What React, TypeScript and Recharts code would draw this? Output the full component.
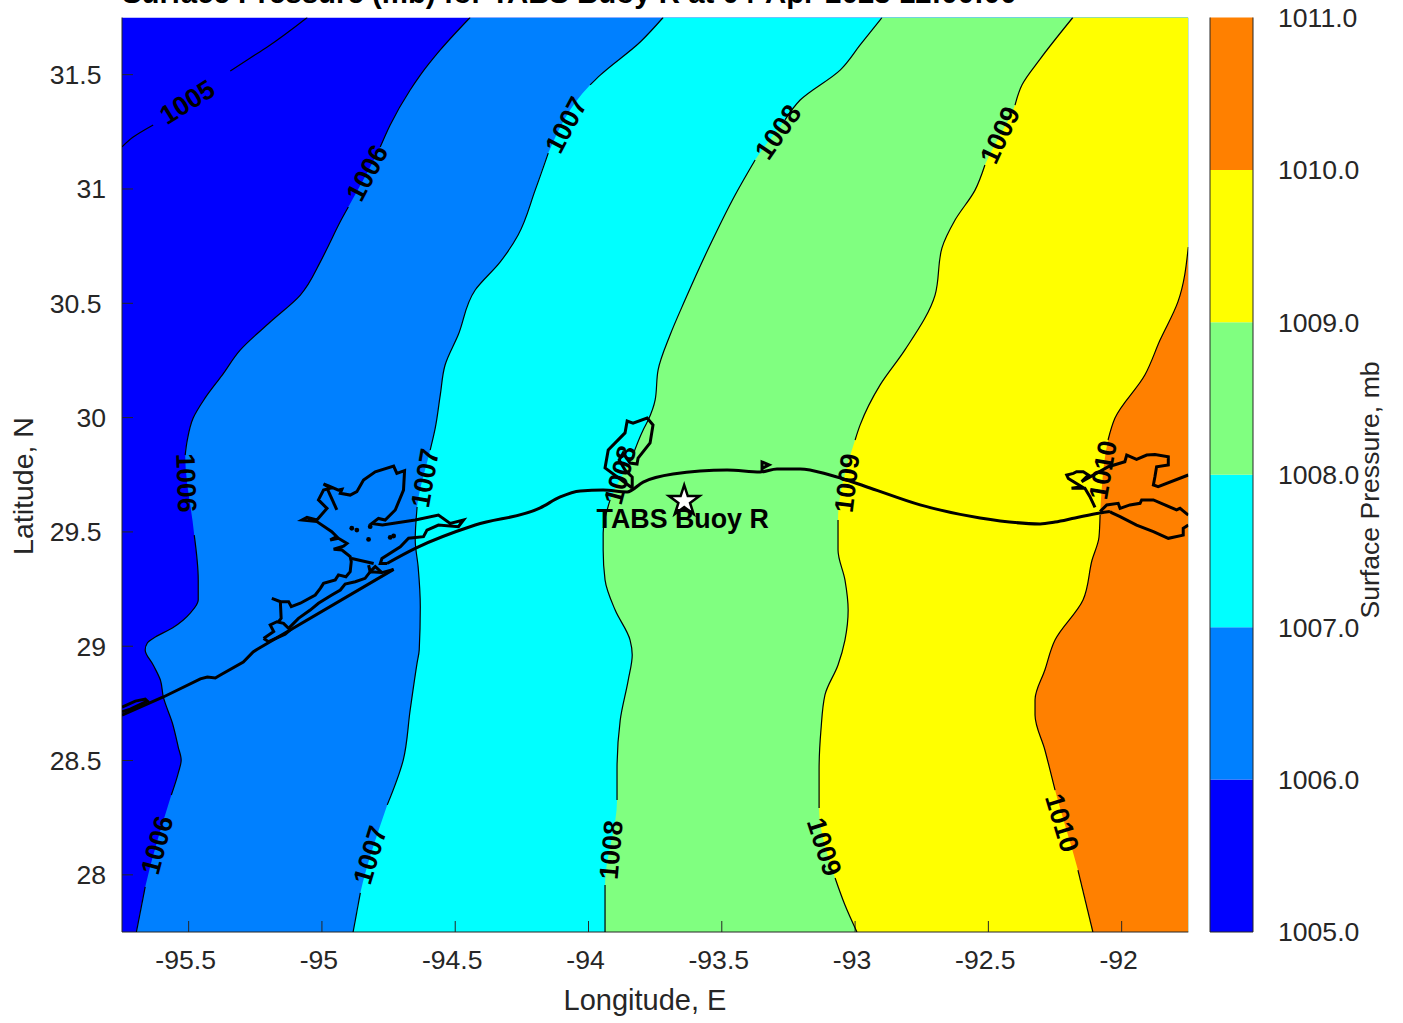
import { Area, ComposedChart, Scatter, Symbols, XAxis, YAxis } from "recharts";

const FONT = "'Liberation Sans', Arial, sans-serif";
const AXIS_COLOR = "#262626";
const LON_MIN = -95.75;
const LON_MAX = -91.75;

const lonTicks = [-95.5, -95, -94.5, -94, -93.5, -93, -92.5, -92];
const latTicks = [28, 28.5, 29, 29.5, 30, 30.5, 31, 31.5];

// contours as [lon, lat], split into runs where the inline label interrupts the line
const contour1005 = [
  [[-95.75, 31.184], [-95.708, 31.227], [-95.633, 31.28]],
  [[-95.344, 31.516], [-95.269, 31.573], [-95.205, 31.621], [-95.055, 31.75]],
];
const contour1006 = [
  [[-94.444, 31.75], [-94.556, 31.608], [-94.631, 31.498], [-94.669, 31.433], [-94.744, 31.28], [-94.781, 31.184]],
  [[-94.901, 30.921], [-94.928, 30.864], [-94.976, 30.751], [-95.006, 30.681], [-95.081, 30.536], [-95.194, 30.418], [-95.306, 30.296], [-95.374, 30.186], [-95.438, 30.086], [-95.483, 29.998], [-95.505, 29.902], [-95.513, 29.836]],
  [[-95.479, 29.486], [-95.464, 29.29], [-95.464, 29.202], [-95.494, 29.145], [-95.52, 29.115], [-95.561, 29.08], [-95.625, 29.04], [-95.655, 29.014], [-95.663, 28.984], [-95.633, 28.918], [-95.606, 28.852], [-95.595, 28.778], [-95.561, 28.664], [-95.539, 28.559], [-95.528, 28.502], [-95.539, 28.445], [-95.565, 28.349]],
  [[-95.663, 27.947], [-95.696, 27.75]],
];
const contour1007 = [
  [[-93.72, 31.75], [-93.806, 31.643], [-93.956, 31.498], [-93.994, 31.455]],
  [[-94.151, 31.157], [-94.2, 30.995], [-94.264, 30.799], [-94.331, 30.681], [-94.425, 30.558], [-94.489, 30.361], [-94.538, 30.23], [-94.556, 30.099], [-94.575, 29.954], [-94.594, 29.858]],
  [[-94.643, 29.609], [-94.65, 29.465], [-94.639, 29.346], [-94.631, 29.172], [-94.635, 28.984], [-94.643, 28.927], [-94.669, 28.721], [-94.695, 28.502], [-94.755, 28.306]],
  [[-94.856, 27.921], [-94.883, 27.75]],
];
const contour1008 = [
  [[-92.899, 31.75], [-92.981, 31.63], [-93.056, 31.52], [-93.206, 31.389], [-93.263, 31.302]],
  [[-93.375, 31.127], [-93.45, 30.974], [-93.544, 30.755], [-93.638, 30.514], [-93.694, 30.361], [-93.739, 30.208], [-93.75, 30.077], [-93.776, 29.989], [-93.795, 29.946], [-93.836, 29.828]],
  [[-93.919, 29.64], [-93.945, 29.495], [-93.945, 29.421], [-93.938, 29.29], [-93.9, 29.158], [-93.844, 29.027], [-93.836, 28.962], [-93.851, 28.852], [-93.881, 28.677], [-93.893, 28.459], [-93.893, 28.327]],
  [[-93.938, 27.956], [-93.938, 27.75]],
];
const contour1009 = [
  [[-92.183, 31.75], [-92.306, 31.568], [-92.374, 31.455], [-92.4, 31.367]],
  [[-92.513, 31.105], [-92.55, 30.995], [-92.625, 30.864], [-92.674, 30.742], [-92.7, 30.536], [-92.813, 30.296], [-92.906, 30.143], [-92.981, 29.968], [-93.0, 29.902]],
  [[-93.064, 29.552], [-93.064, 29.421], [-93.038, 29.29], [-93.026, 29.158], [-93.038, 29.027], [-93.064, 28.918], [-93.113, 28.787], [-93.128, 28.634], [-93.135, 28.459], [-93.135, 28.292]],
  [[-93.075, 27.986], [-93.038, 27.868], [-92.993, 27.75]],
];
const contour1010 = [
  [[-91.75, 30.746], [-91.789, 30.506], [-91.856, 30.339], [-91.913, 30.186], [-92.025, 29.998], [-92.051, 29.902]],
  [[-92.081, 29.574], [-92.085, 29.478], [-92.111, 29.377], [-92.145, 29.202], [-92.25, 29.027], [-92.288, 28.896], [-92.325, 28.765], [-92.325, 28.699], [-92.288, 28.546], [-92.25, 28.371]],
  [[-92.164, 28.021], [-92.108, 27.75]],
];
const contourBase = [[LON_MIN, 27.75], [LON_MIN, 31.75]];

const contourLabelText = ["1005", "1006", "1006", "1006", "1007", "1007", "1007", "1008", "1008", "1008", "1009", "1009", "1009", "1010", "1010"];
const contourLabelLon = [-95.505, -94.83, -95.509, -95.618, -94.084, -94.613, -94.819, -93.289, -93.881, -93.915, -92.456, -93.03, -93.116, -92.07, -92.224];
const contourLabelLat = [31.38, 31.07, 29.714, 28.13, 31.28, 29.736, 28.087, 31.249, 29.749, 28.109, 31.236, 29.714, 28.122, 29.771, 28.227];
const contourLabelAngle = [-32, -62, 88, -75, -62, -80, -73, -55, -75, -85, -65, -83, 72, -80, 73];

// coastline pieces
const coastWest = [[-95.75, 28.699], [-95.595, 28.778], [-95.456, 28.857], [-95.43, 28.865], [-95.4, 28.861], [-95.381, 28.874], [-95.295, 28.931], [-95.258, 28.975], [-95.244, 28.986], [-94.731, 29.336]];
const coastWestIsland = [[-95.75, 28.734], [-95.7, 28.76], [-95.663, 28.769], [-95.655, 28.76], [-95.719, 28.725], [-95.75, 28.713]];
const coastWestBay = [[-95.219, 29.034], [-95.181, 29.064], [-95.194, 29.093], [-95.169, 29.107], [-95.144, 29.1], [-95.119, 29.071], [-95.138, 29.053], [-95.2, 29.02], [-95.219, 29.034]];
const coastBarrier = [[-95.125, 29.078], [-95.088, 29.122], [-95.044, 29.158], [-95.013, 29.188], [-94.963, 29.224], [-94.931, 29.246], [-94.913, 29.272], [-94.875, 29.282], [-94.838, 29.297], [-94.819, 29.326], [-94.775, 29.322], [-94.731, 29.336]];
const coastBarrierSpur = [[-94.825, 29.355], [-94.819, 29.326], [-94.8, 29.348], [-94.775, 29.322]];
const coastBay = [[-95.163, 29.107], [-95.153, 29.122], [-95.156, 29.195], [-95.188, 29.209], [-95.156, 29.195], [-95.125, 29.195], [-95.115, 29.173], [-95.081, 29.188], [-95.025, 29.224], [-95.006, 29.253], [-94.994, 29.275], [-94.95, 29.29], [-94.938, 29.312], [-94.91, 29.304], [-94.894, 29.326], [-94.89, 29.37], [-94.894, 29.392], [-94.925, 29.421], [-94.956, 29.424], [-94.919, 29.438], [-94.906, 29.45], [-94.938, 29.472], [-94.969, 29.465], [-94.944, 29.479], [-94.963, 29.501], [-95.019, 29.545], [-95.075, 29.552], [-95.056, 29.564], [-95.019, 29.552], [-94.981, 29.603], [-95.013, 29.64], [-94.994, 29.683], [-94.969, 29.691], [-94.994, 29.71], [-94.975, 29.701], [-94.938, 29.683], [-94.925, 29.686], [-94.931, 29.669], [-94.894, 29.661], [-94.869, 29.676], [-94.844, 29.727], [-94.8, 29.763], [-94.731, 29.788], [-94.719, 29.756], [-94.69, 29.768], [-94.694, 29.683], [-94.725, 29.596], [-94.763, 29.552], [-94.788, 29.559], [-94.813, 29.537], [-94.773, 29.53], [-94.65, 29.552], [-94.563, 29.574], [-94.519, 29.537], [-94.469, 29.552], [-94.488, 29.523], [-94.563, 29.53], [-94.606, 29.508], [-94.619, 29.479], [-94.675, 29.472], [-94.706, 29.435], [-94.775, 29.384], [-94.781, 29.362], [-94.756, 29.362]];
const coastBayBranch = [[-94.888, 29.384], [-94.806, 29.362]];
const coastBaySpur = [[-94.981, 29.691], [-94.944, 29.596]];
const coastBayDots = [[-94.888, 29.516], [-94.869, 29.508], [-94.819, 29.523], [-94.825, 29.467], [-94.744, 29.476], [-94.731, 29.482]];
const coastEast = [[-94.756, 29.362], [-94.65, 29.428], [-94.425, 29.53], [-94.181, 29.605], [-94.106, 29.653], [-94.031, 29.679], [-93.945, 29.683], [-93.855, 29.675], [-93.795, 29.718], [-93.683, 29.753], [-93.48, 29.771], [-93.356, 29.762], [-93.293, 29.775], [-93.206, 29.775], [-93.094, 29.749], [-92.944, 29.692], [-92.756, 29.618], [-92.531, 29.561], [-92.306, 29.535], [-92.25, 29.543], [-92.175, 29.561], [-92.081, 29.583], [-92.044, 29.589]];
const coastSabine = [[-93.836, 29.692], [-93.938, 29.78], [-93.926, 29.858], [-93.863, 29.933], [-93.855, 29.985], [-93.833, 29.976], [-93.78, 29.998], [-93.758, 29.968], [-93.769, 29.889], [-93.814, 29.823], [-93.818, 29.797], [-93.844, 29.801], [-93.87, 29.845], [-93.885, 29.815], [-93.863, 29.771], [-93.836, 29.74], [-93.836, 29.692]];
const coastPoint = [[-93.349, 29.766], [-93.349, 29.806], [-93.323, 29.793], [-93.345, 29.78]];
const coastCalcasieu = [[-92.1, 29.607], [-92.119, 29.654], [-92.138, 29.691], [-92.188, 29.691], [-92.15, 29.698], [-92.2, 29.734], [-92.206, 29.749], [-92.181, 29.756], [-92.169, 29.763], [-92.144, 29.763], [-92.125, 29.749], [-92.15, 29.72], [-92.05, 29.785], [-91.988, 29.807], [-91.981, 29.836], [-91.944, 29.817], [-91.906, 29.836], [-91.875, 29.839], [-91.825, 29.829], [-91.825, 29.793], [-91.869, 29.785], [-91.875, 29.742], [-91.881, 29.705], [-91.863, 29.698], [-91.75, 29.749]];
const coastVermilionNorth = [[-92.081, 29.589], [-92.056, 29.618], [-92.013, 29.625], [-92.006, 29.603], [-91.969, 29.618], [-91.931, 29.625], [-91.925, 29.64], [-91.881, 29.64], [-91.838, 29.618], [-91.794, 29.596], [-91.781, 29.603], [-91.75, 29.574]];
const coastVermilionSouth = [[-92.044, 29.589], [-92.038, 29.584], [-92.006, 29.567], [-91.944, 29.53], [-91.881, 29.501], [-91.825, 29.472], [-91.769, 29.486], [-91.769, 29.516], [-91.75, 29.53]];

const buoyLon = -93.641;
const buoyLat = 29.635;
const buoyName = "TABS Buoy R";

const colorbarLevels = [1005, 1006, 1007, 1008, 1009, 1010, 1011];
const colorbarColors = ["#0000ff", "#0080ff", "#00ffff", "#80ff80", "#ffff00", "#ff8000"];

const toRows = (pts: number[][]) => pts.map(([lon, lat]) => ({ lon, lat }));
const toBand = (pts: number[][]) => pts.map(([lon, lat]) => ({ lon, lat, band: [lon, LON_MAX] }));

const filledContours = [
  { pts: contourBase, fill: "#0000ff" },
  { pts: contour1006.flat(), fill: "#0080ff" },
  { pts: contour1007.flat(), fill: "#00ffff" },
  { pts: contour1008.flat(), fill: "#80ff80" },
  { pts: contour1009.flat(), fill: "#ffff00" },
  { pts: contour1010.flat(), fill: "#ff8000" },
];
const contourRuns = [...contour1005, ...contour1006, ...contour1007, ...contour1008, ...contour1009, ...contour1010];
const coastPieces = [coastWest, coastWestIsland, coastWestBay, coastBarrier, coastBarrierSpur, coastBay, coastBayBranch, coastBaySpur, coastSabine, coastPoint, coastCalcasieu, coastVermilionNorth, coastVermilionSouth];
const contourLabelRows = contourLabelText.map((text, i) => ({ text, lon: contourLabelLon[i], lat: contourLabelLat[i], angle: contourLabelAngle[i] }));

const NoMark = () => <g />;

const ContourLabel = (props: any) => (
  <text
    x={props.cx}
    y={props.cy}
    transform={`rotate(${props.payload.angle} ${props.cx} ${props.cy})`}
    textAnchor="middle"
    dominantBaseline="central"
    fontFamily={FONT}
    fontWeight="bold"
    fontSize={26.6}
    fill="#000"
  >
    {props.payload.text}
  </text>
);

const BuoyMark = (props: any) => (
  <g>
    <Symbols type="star" size={287} cx={props.cx} cy={props.cy} fill="#fff" stroke="#000" strokeWidth={2.5} />
    <text x={props.cx - 1.5} y={props.cy + 27} textAnchor="middle" fontFamily={FONT} fontWeight="bold" fontSize={26.8} fill="#000">
      {buoyName}
    </text>
  </g>
);

const tickStyle = { fontSize: 26.6, fill: AXIS_COLOR, fontFamily: FONT };
const lineStyle = { stroke: AXIS_COLOR, strokeWidth: 1 };

// the longer latitude labels sit a little further from the axis in the original
const LatTick = (props: any) => (
  <text x={props.x - (String(props.payload.value).length > 2 ? 4.5 : 0)} y={props.y} dy="0.355em" textAnchor="end" {...tickStyle}>
    {props.payload.value}
  </text>
);

const App = () => (
  <div style={{ position: "absolute", left: 0, top: 0, width: 1403, height: 1023, overflow: "hidden", background: "#fff" }}>
    <div style={{ position: "absolute", left: 122, top: -24, fontFamily: FONT, fontWeight: "bold", fontSize: 29.4, whiteSpace: "nowrap", color: "#000" }}>
      Surface Pressure (mb) for TABS Buoy R at 04-Apr-2023 12:00:00
    </div>

    <div style={{ position: "absolute", left: 0, top: 0 }}>
      <ComposedChart layout="vertical" width={1403} height={1023} margin={{ top: 17.5, right: 214.7, bottom: 0, left: 0 }}>
        {filledContours.map((c, i) => (
          <Area key={i} data={toBand(c.pts)} dataKey="band" type="monotone" stroke="none" fill={c.fill} fillOpacity={1} dot={false} activeDot={false} isAnimationActive={false} />
        ))}
        {contourRuns.map((run, i) => (
          <Scatter key={i} data={toRows(run)} shape={NoMark} line={{ stroke: "#000", strokeWidth: 1.2 }} lineJointType="monotoneY" isAnimationActive={false} />
        ))}
        {coastPieces.map((piece, i) => (
          <Scatter key={i} data={toRows(piece)} shape={NoMark} line={{ stroke: "#000", strokeWidth: 3 }} isAnimationActive={false} />
        ))}
        <Scatter data={toRows(coastEast)} shape={NoMark} line={{ stroke: "#000", strokeWidth: 3 }} lineJointType="monotoneX" isAnimationActive={false} />
        <Scatter data={toRows(coastBayDots)} shape={(p: any) => <circle cx={p.cx} cy={p.cy} r={2.4} fill="#000" />} isAnimationActive={false} />
        <Scatter data={contourLabelRows} shape={ContourLabel} isAnimationActive={false} />
        <Scatter data={toRows([[buoyLon, buoyLat]])} shape={BuoyMark} isAnimationActive={false} />

        <XAxis
          type="number"
          dataKey="lon"
          domain={[LON_MIN, LON_MAX]}
          ticks={lonTicks}
          interval={0}
          allowDataOverflow
          height={91}
          tick={{ ...tickStyle, dx: -3 }}
          tickSize={-11}
          tickMargin={29}
          tickLine={lineStyle}
          axisLine={lineStyle}
        />
        <XAxis xAxisId="top" orientation="top" type="number" domain={[LON_MIN, LON_MAX]} ticks={lonTicks} interval={0} allowDataOverflow height={0} tick={false} tickSize={-11} tickLine={lineStyle} axisLine={lineStyle} />
        <YAxis
          type="number"
          dataKey="lat"
          reversed
          domain={[27.75, 31.75]}
          ticks={latTicks}
          interval={0}
          allowDataOverflow
          width={122}
          tick={LatTick}
          tickSize={-11}
          tickMargin={27}
          tickLine={lineStyle}
          axisLine={lineStyle}
        />
        <YAxis yAxisId="right" orientation="right" type="number" reversed domain={[27.75, 31.75]} ticks={latTicks} interval={0} allowDataOverflow width={0} tick={false} tickSize={-11} tickLine={lineStyle} axisLine={lineStyle} />
        <text x={645} y={1010} textAnchor="middle" fontFamily={FONT} fontSize={29} fill={AXIS_COLOR}>
          Longitude, E
        </text>
        <text x={33} y={486} transform="rotate(-90 33 486)" textAnchor="middle" fontFamily={FONT} fontSize={28.5} fill={AXIS_COLOR}>
          Latitude, N
        </text>
      </ComposedChart>
    </div>

    <div style={{ position: "absolute", left: 1200, top: 0 }}>
      <ComposedChart layout="vertical" width={203} height={1023} margin={{ top: 17.5, right: 0, bottom: 0, left: 0 }}>
        {colorbarColors.map((color, i) => (
          <Area
            key={i}
            data={[
              { level: colorbarLevels[i], span: [0, 1] },
              { level: colorbarLevels[i + 1], span: [0, 1] },
            ]}
            dataKey="span"
            type="linear"
            stroke="none"
            fill={color}
            fillOpacity={1}
            dot={false}
            activeDot={false}
            isAnimationActive={false}
          />
        ))}
        <XAxis type="number" domain={[0, 1]} ticks={[]} height={91} tick={false} tickLine={false} axisLine={lineStyle} />
        <XAxis xAxisId="top" orientation="top" type="number" domain={[0, 1]} ticks={[]} height={0} tick={false} tickLine={false} axisLine={lineStyle} />
        <YAxis yAxisId="left" type="number" reversed domain={[1005, 1011]} width={10} tick={false} tickLine={false} axisLine={lineStyle} />
        <YAxis
          orientation="right"
          type="number"
          dataKey="level"
          reversed
          domain={[1005, 1011]}
          ticks={colorbarLevels}
          interval={0}
          width={150}
          tick={tickStyle}
          tickSize={0}
          tickMargin={25}
          tickLine={false}
          axisLine={lineStyle}
          tickFormatter={(v: number) => v.toFixed(1)}
        />
        <text x={179} y={490} transform="rotate(-90 179 490)" textAnchor="middle" fontFamily={FONT} fontSize={26.6} fill={AXIS_COLOR}>
          Surface Pressure, mb
        </text>
      </ComposedChart>
    </div>
  </div>
);

export default App;
